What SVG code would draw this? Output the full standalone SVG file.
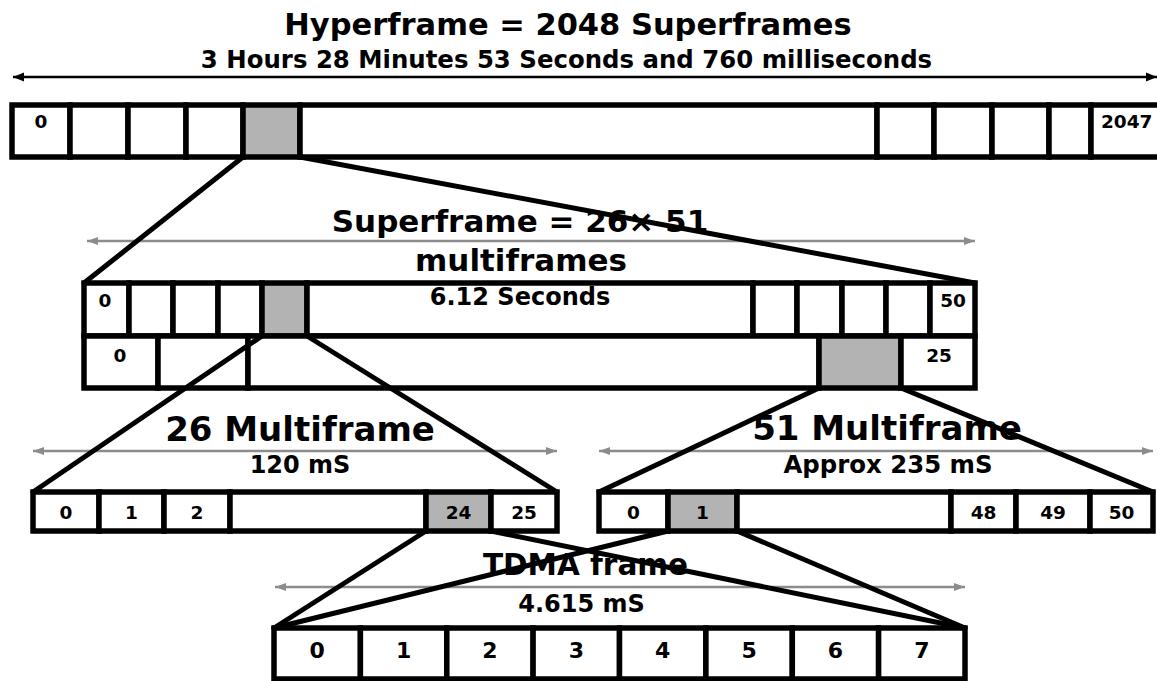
<svg xmlns="http://www.w3.org/2000/svg" width="1157" height="681" viewBox="0 0 1157 681">
<style>
text{font-family:"DejaVu Sans",Verdana,sans-serif;font-weight:bold;fill:#000;text-anchor:middle}
.cell{fill:#fff;stroke:#000;stroke-width:5.5}
.sel{fill:#b3b3b3;stroke:#000;stroke-width:5.5}
.zoom{stroke:#000;stroke-width:5;stroke-linecap:round;fill:none}
.span{stroke:#000;stroke-width:2.5;fill:none}
.gspan{stroke:#8c8c8c;stroke-width:2.5;fill:none}
.lbl{font-size:18.5px}
.tl{font-size:22px}
.big{font-size:31px}
.mid{font-size:24px}
</style>
<defs>
<marker id="ab" markerUnits="userSpaceOnUse" markerWidth="12" markerHeight="10" refX="11" refY="5" orient="auto-start-reverse"><path d="M0,0.5 L11,5 L0,9.5 z" fill="#000"/></marker>
<marker id="ag" markerUnits="userSpaceOnUse" markerWidth="12" markerHeight="10" refX="11" refY="5" orient="auto-start-reverse"><path d="M0,1 L11,5 L0,9 z" fill="#8c8c8c"/></marker>
</defs>

<g id="hyperframe-title">
<text x="568" y="35" style="font-size:30.5px">Hyperframe = 2048 Superframes</text>
<text x="566.5" y="68" style="font-size:24.4px">3 Hours 28 Minutes 53 Seconds and 760 milliseconds</text>
</g>

<g id="hyperframe-row">
<rect class="cell" x="12" y="105" width="58" height="52"/>
<rect class="cell" x="70" y="105" width="58" height="52"/>
<rect class="cell" x="128" y="105" width="58" height="52"/>
<rect class="cell" x="186" y="105" width="57" height="52"/>
<rect class="sel" x="243" y="105" width="57" height="52"/>
<rect class="cell" x="300" y="105" width="577" height="52"/>
<rect class="cell" x="877" y="105" width="57" height="52"/>
<rect class="cell" x="934" y="105" width="58" height="52"/>
<rect class="cell" x="992" y="105" width="57" height="52"/>
<rect class="cell" x="1049" y="105" width="42" height="52"/>
<rect class="cell" x="1091" y="105" width="80" height="52"/>
<text class="lbl" x="41" y="128">0</text>
<text class="lbl" x="1101" y="128" style="text-anchor:start">2047</text>
</g>

<g id="superframe-title">
<text class="big" x="520" y="232">Superframe = 26× 51</text>
<text class="big" x="521" y="271">multiframes</text>
</g>

<g id="superframe-51">
<rect class="cell" x="84" y="283" width="45" height="53"/>
<rect class="cell" x="129" y="283" width="44" height="53"/>
<rect class="cell" x="173" y="283" width="45" height="53"/>
<rect class="cell" x="218" y="283" width="44" height="53"/>
<rect class="sel" x="262" y="283" width="45" height="53"/>
<rect class="cell" x="307" y="283" width="446" height="53"/>
<rect class="cell" x="753" y="283" width="44" height="53"/>
<rect class="cell" x="797" y="283" width="45" height="53"/>
<rect class="cell" x="842" y="283" width="44" height="53"/>
<rect class="cell" x="886" y="283" width="44" height="53"/>
<rect class="cell" x="930" y="283" width="45" height="53"/>
<text class="lbl" x="105" y="307">0</text>
<text class="lbl" x="953" y="307">50</text>
<text class="mid" x="520" y="305">6.12 Seconds</text>
</g>

<g id="superframe-26">
<rect class="cell" x="84" y="336" width="74" height="52"/>
<rect class="cell" x="158" y="336" width="90" height="52"/>
<rect class="cell" x="248" y="336" width="571" height="52"/>
<rect class="sel" x="819" y="336" width="82" height="52"/>
<rect class="cell" x="901" y="336" width="74" height="52"/>
<text class="lbl" x="120" y="362">0</text>
<text class="lbl" x="939" y="362">25</text>
</g>

<g id="multiframe-26">
<text x="300" y="441" style="font-size:34px">26 Multiframe</text>
<text class="mid" x="300" y="473">120 mS</text>
<rect class="cell" x="33" y="492" width="66" height="39"/>
<rect class="cell" x="99" y="492" width="65" height="39"/>
<rect class="cell" x="164" y="492" width="66" height="39"/>
<rect class="cell" x="230" y="492" width="196" height="39"/>
<rect class="sel" x="426" y="492" width="65" height="39"/>
<rect class="cell" x="491" y="492" width="66" height="39"/>
<text class="lbl" x="66" y="519">0</text>
<text class="lbl" x="131.5" y="519">1</text>
<text class="lbl" x="197" y="519">2</text>
<text class="lbl" x="458.5" y="519">24</text>
<text class="lbl" x="524" y="519">25</text>
</g>

<g id="multiframe-51">
<text x="887" y="440" style="font-size:34px">51 Multiframe</text>
<text x="888" y="473" style="font-size:24.4px">Approx 235 mS</text>
<rect class="cell" x="599" y="492" width="69" height="39"/>
<rect class="sel" x="668" y="492" width="69" height="39"/>
<rect class="cell" x="737" y="492" width="214" height="39"/>
<rect class="cell" x="951" y="492" width="65" height="39"/>
<rect class="cell" x="1016" y="492" width="74" height="39"/>
<rect class="cell" x="1090" y="492" width="63" height="39"/>
<text class="lbl" x="633.5" y="519">0</text>
<text class="lbl" x="702.5" y="519">1</text>
<text class="lbl" x="983.5" y="519">48</text>
<text class="lbl" x="1053" y="519">49</text>
<text class="lbl" x="1121.5" y="519">50</text>
</g>

<g id="tdma-frame">
<text x="585.5" y="575" style="font-size:29.5px">TDMA frame</text>
<text class="mid" x="581.5" y="612">4.615 mS</text>
<rect class="cell" x="274" y="628" width="86.4" height="51"/>
<rect class="cell" x="360.4" y="628" width="86.4" height="51"/>
<rect class="cell" x="446.8" y="628" width="86.3" height="51"/>
<rect class="cell" x="533.1" y="628" width="86.4" height="51"/>
<rect class="cell" x="619.5" y="628" width="86.4" height="51"/>
<rect class="cell" x="705.9" y="628" width="86.4" height="51"/>
<rect class="cell" x="792.3" y="628" width="86.3" height="51"/>
<rect class="cell" x="878.6" y="628" width="86.4" height="51"/>
<text class="tl" x="317.2" y="658">0</text>
<text class="tl" x="403.6" y="658">1</text>
<text class="tl" x="490" y="658">2</text>
<text class="tl" x="576.3" y="658">3</text>
<text class="tl" x="662.7" y="658">4</text>
<text class="tl" x="749.1" y="658">5</text>
<text class="tl" x="835.5" y="658">6</text>
<text class="tl" x="921.8" y="658">7</text>
</g>

<g id="connectors">
<line class="span" x1="13" y1="77" x2="1157" y2="77" marker-start="url(#ab)" marker-end="url(#ab)"/>
<line class="gspan" x1="87" y1="241" x2="975" y2="241" marker-start="url(#ag)" marker-end="url(#ag)"/>
<line class="gspan" x1="33" y1="451" x2="557" y2="451" marker-start="url(#ag)" marker-end="url(#ag)"/>
<line class="gspan" x1="599" y1="451" x2="1153" y2="451" marker-start="url(#ag)" marker-end="url(#ag)"/>
<line class="gspan" x1="275" y1="587" x2="965" y2="587" marker-start="url(#ag)" marker-end="url(#ag)"/>
<line class="zoom" x1="243" y1="157" x2="84" y2="283"/>
<line class="zoom" x1="300" y1="157" x2="975" y2="283"/>
<line class="zoom" x1="262" y1="336" x2="33" y2="492"/>
<line class="zoom" x1="307" y1="336" x2="557" y2="492"/>
<line class="zoom" x1="819" y1="388" x2="599" y2="492"/>
<line class="zoom" x1="901" y1="388" x2="1153" y2="492"/>
<line class="zoom" x1="426" y1="531" x2="274" y2="628"/>
<line class="zoom" x1="491" y1="531" x2="965" y2="628"/>
<line class="zoom" x1="668" y1="531" x2="274" y2="628"/>
<line class="zoom" x1="737" y1="531" x2="965" y2="628"/>
</g>
</svg>
